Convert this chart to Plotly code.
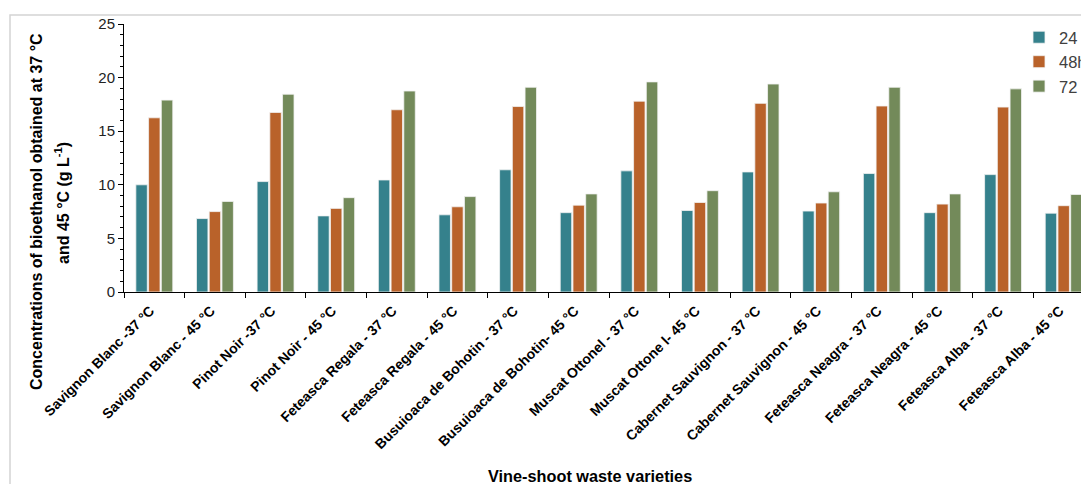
import plotly.graph_objects as go

# Vine-shoot waste samples at two fermentation temperatures
varieties = [
    "Savignon Blanc -37 °C", "Savignon Blanc - 45 °C",
    "Pinot Noir -37 °C", "Pinot Noir - 45 °C",
    "Feteasca Regala - 37 °C", "Feteasca Regala - 45 °C",
    "Busuioaca de Bohotin - 37 °C", "Busuioaca de Bohotin- 45 °C",
    "Muscat Ottonel - 37 °C", "Muscat Ottone l- 45 °C",
    "Cabernet Sauvignon - 37 °C", "Cabernet Sauvignon - 45 °C",
    "Feteasca Neagra - 37 °C", "Feteasca Neagra - 45 °C",
    "Feteasca Alba - 37 °C", "Feteasca Alba - 45 °C",
]

# Bioethanol concentration (g/L) after each fermentation time
h24 = [10.0, 6.85, 10.3, 7.1, 10.45, 7.2, 11.4, 7.4, 11.3, 7.6, 11.2, 7.55, 11.05, 7.4, 10.95, 7.35]
h48 = [16.25, 7.5, 16.75, 7.8, 17.0, 7.95, 17.3, 8.1, 17.8, 8.35, 17.6, 8.3, 17.35, 8.2, 17.25, 8.05]
h72 = [17.9, 8.45, 18.45, 8.8, 18.75, 8.9, 19.1, 9.15, 19.6, 9.45, 19.4, 9.35, 19.1, 9.15, 18.95, 9.1]

series = [("24 h", h24, "#35818C"), ("48h", h48, "#B9622A"), ("72 h", h72, "#738A5A")]

fig = go.Figure()
for name, vals, color in series:
    fig.add_trace(go.Bar(
        x=varieties, y=vals, name=name,
        marker=dict(color=color, line=dict(color="#f2f2f2", width=0.8)),
    ))

font_family = "Liberation Sans, Arial, sans-serif"

# plot area: 124..1094 px horizontally, 24..292 px vertically
PL, PW, PT, PH = 124, 970, 24, 268
FIG_W, FIG_H = 1160, 484


def px_x(p):
    return (p - PL) / PW


def px_y(p):
    return (PT + PH - p) / PH


title_font = dict(size=16, weight="bold", color="#000000", family=font_family)

fig.update_layout(
    width=FIG_W, height=FIG_H,
    margin=dict(l=PL, r=FIG_W - PL - PW, t=PT, b=FIG_H - PT - PH),
    paper_bgcolor="white", plot_bgcolor="white",
    barmode="group", bargap=0.37, bargroupgap=0.1,
    font=dict(family=font_family, color="#000000"),
    showlegend=True,
    legend=dict(
        x=px_x(1019), xanchor="left", y=px_y(20), yanchor="top",
        font=dict(size=16.5, color="#404040", family=font_family),
        tracegroupgap=0, itemwidth=30, bgcolor="rgba(0,0,0,0)",
    ),
    xaxis=dict(
        type="category", categoryorder="array", categoryarray=varieties,
        showline=True, linecolor="#000000", linewidth=1,
        ticks="outside", tickson="boundaries", ticklen=5, tickcolor="#000000",
        tickangle=-45, ticklabelshift=-4, ticklabelstandoff=4,
        tickfont=dict(size=14, weight="bold", color="#000000", family=font_family),
        showgrid=False, zeroline=False,
        automargin=False,
    ),
    yaxis=dict(
        range=[0, 25], dtick=5, tick0=0,
        showline=True, linecolor="#000000", linewidth=1,
        ticks="outside", ticklen=5, tickcolor="#000000",
        minor=dict(dtick=1, ticks="outside", ticklen=3, tickcolor="#000000"),
        tickfont=dict(size=15, color="#222222", family=font_family),
        showgrid=False, zeroline=False,
        automargin=False,
    ),
    annotations=[
        dict(text="Concentrations of bioethanol obtained at 37 °C",
             xref="paper", yref="paper", x=px_x(36), y=px_y(212),
             xanchor="center", yanchor="middle", textangle=-90,
             showarrow=False, font=title_font),
        dict(text="and 45 °C (g L<sup>-1</sup>)",
             xref="paper", yref="paper", x=px_x(62), y=px_y(203),
             xanchor="center", yanchor="middle", textangle=-90,
             showarrow=False, font=title_font),
        dict(text="Vine-shoot waste varieties",
             xref="paper", yref="paper", x=px_x(590), y=px_y(476),
             xanchor="center", yanchor="middle",
             showarrow=False, font=dict(size=16.3, weight="bold", color="#000000", family=font_family)),
    ],
    shapes=[
        # light frame around the figure
        dict(type="rect", xref="paper", yref="paper",
             x0=px_x(10), x1=1.3, y0=-1.0, y1=px_y(15),
             line=dict(color="#d4d4d4", width=1.5), layer="below"),
    ],
)

fig.write_html("out.html", post_script="document.body.style.overflow='hidden';document.body.style.margin='0';")
